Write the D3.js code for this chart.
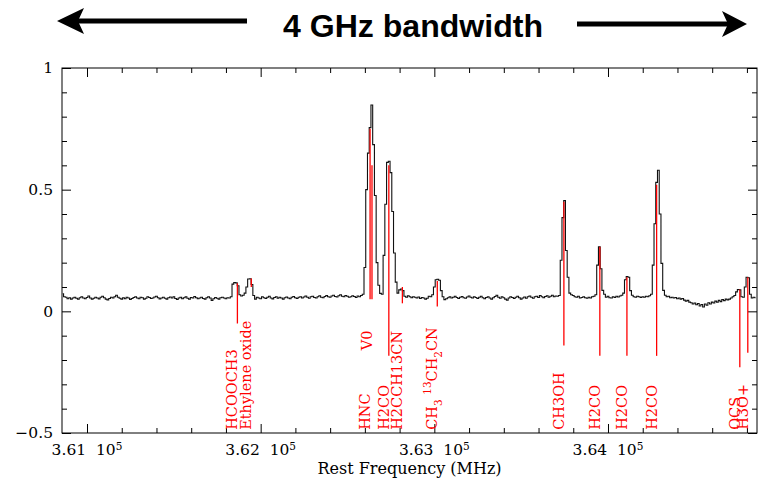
<!DOCTYPE html>
<html>
<head>
<meta charset="utf-8">
<script src="https://d3js.org/d3.v7.min.js"></script>
<style>
body{margin:0;background:#fff;}
svg{display:block;}
.axis path{display:none;}
.axis line{stroke:#000;stroke-width:1;}
</style>
</head>
<body>
<script>
// spectrum channels (10 MHz wide, first channel centre at 360860 MHz)
var chanStart = 360860, chanWidth = 10;
var intensity = [
 0.072,0.06,0.058,0.052,0.056,0.05,0.055,0.058,0.054,0.05,0.056,0.06,0.055,0.052,0.057,0.063,0.055,0.05,0.054,0.058,
 0.055,0.051,0.058,0.062,0.056,0.05,0.047,0.053,0.058,0.055,0.06,0.066,0.058,0.054,0.05,0.056,0.052,0.058,0.055,0.049,
 0.053,0.057,0.06,0.055,0.052,0.058,0.056,0.05,0.054,0.06,0.057,0.053,0.055,0.059,0.062,0.056,0.051,0.055,0.058,0.054,
 0.05,0.056,0.059,0.055,0.06,0.053,0.049,0.055,0.058,0.052,0.056,0.06,0.054,0.05,0.057,0.055,0.061,0.056,0.052,0.055,
 0.058,0.053,0.05,0.056,0.06,0.055,0.045,0.052,0.057,0.054,0.05,0.056,0.058,0.055,0.052,0.056,0.055,0.06,0.112,0.118,
 0.117,0.105,0.068,0.063,0.066,0.075,0.1,0.133,0.134,0.11,0.065,0.05,0.058,0.055,0.052,0.06,0.056,0.053,0.058,0.062,
 0.055,0.051,0.057,0.06,0.054,0.058,0.055,0.05,0.056,0.059,0.055,0.052,0.058,0.061,0.056,0.053,0.058,0.06,0.055,0.059,
 0.063,0.058,0.054,0.06,0.062,0.057,0.055,0.06,0.064,0.058,0.056,0.061,0.065,0.06,0.058,0.063,0.066,0.061,0.059,0.064,
 0.068,0.062,0.06,0.065,0.062,0.058,0.06,0.064,0.061,0.057,0.063,0.06,0.065,0.07,0.18,0.5,0.65,0.755,0.848,0.685,
 0.476,0.2,0.107,0.074,0.07,0.23,0.44,0.612,0.617,0.57,0.41,0.24,0.12,0.075,0.088,0.092,0.085,0.062,0.058,0.064,
 0.06,0.056,0.06,0.058,0.055,0.059,0.053,0.057,0.055,0.05,0.054,0.062,0.06,0.068,0.1,0.13,0.132,0.128,0.085,0.06,
 0.048,0.052,0.056,0.06,0.055,0.058,0.062,0.057,0.053,0.058,0.061,0.056,0.054,0.059,0.063,0.058,0.055,0.06,0.057,0.053,
 0.058,0.062,0.056,0.052,0.057,0.06,0.055,0.05,0.056,0.061,0.066,0.058,0.054,0.06,0.056,0.05,0.046,0.055,0.06,0.057,
 0.053,0.058,0.062,0.056,0.05,0.055,0.059,0.054,0.06,0.063,0.058,0.054,0.06,0.062,0.057,0.065,0.06,0.056,0.061,0.064,
 0.058,0.062,0.066,0.06,0.063,0.062,0.065,0.21,0.385,0.455,0.25,0.14,0.075,0.068,0.065,0.06,0.058,0.062,0.055,0.057,
 0.06,0.056,0.054,0.058,0.055,0.06,0.062,0.068,0.19,0.265,0.175,0.086,0.07,0.058,0.062,0.056,0.055,0.06,0.057,0.062,
 0.059,0.063,0.066,0.075,0.13,0.143,0.14,0.085,0.066,0.06,0.058,0.062,0.06,0.057,0.06,0.058,0.062,0.06,0.064,0.07,
 0.19,0.36,0.53,0.58,0.4,0.197,0.086,0.066,0.06,0.062,0.056,0.058,0.055,0.057,0.052,0.055,0.05,0.053,0.046,0.042,
 0.045,0.038,0.035,0.03,0.034,0.027,0.032,0.022,0.028,0.018,0.03,0.025,0.035,0.03,0.038,0.034,0.042,0.038,0.045,0.04,
 0.048,0.044,0.05,0.047,0.05,0.055,0.06,0.065,0.08,0.09,0.088,0.06,0.058,0.1,0.14,0.138,0.07,0.055,0.058,0.056
];

// line identifications (red markers)
var lineNames   = ["HCOOCH3","Ethylene oxide","HNC","V0","H2CO","H2CCH13CN","CH{_3} {^13}CH{_2}CN","CH3OH","H2CO","H2CO","H2CO","OCS","H3O+"];
var lineFreqs   = [361866,361946,362630,362641,362738,362816,363017,363746,363953,364109,364280,364759,364805];
var lineTops    = [0.115,0.135,0.75,0.6,0.6,0.1,0.125,0.45,0.265,0.14,0.52,0.09,0.14];
var lineBottoms = [-0.05,0.1,0.05,0.05,-0.183,0.033,0.02,-0.14,-0.183,-0.183,-0.183,-0.23,-0.17];

var xMajor = [361000,362000,363000,364000];
var xLabels = ["3.61","3.62","3.63","3.64"];
var yMajor = [-0.5,0,0.5,1];
var yLabels = ["\u22120.5","0","0.5","1"];

var W = 759, H = 478;
var padL = 62, padR = 757, padT = 68, padB = 433;
var serif = "'DejaVu Serif', serif";

var svg = d3.select("body").append("svg").attr("width", W).attr("height", H);

var x = d3.scaleLinear().domain([360856, 364858]).range([padL, padR]);
var y = d3.scaleLinear().domain([-0.5, 1]).range([padB, padT]);

// title + arrows
svg.append("text")
  .attr("x", 413).attr("y", 37)
  .attr("text-anchor", "middle")
  .attr("font-family", "'Liberation Sans', Arial, sans-serif")
  .attr("font-weight", "bold").attr("font-size", 31)
  .attr("textLength", 260).attr("lengthAdjust", "spacingAndGlyphs")
  .text("4 GHz bandwidth");

svg.append("line").attr("x1", 78).attr("x2", 247).attr("y1", 21).attr("y2", 21)
  .attr("stroke", "#000").attr("stroke-width", 5);
svg.append("path").attr("d", "M57,21L84,8L78,21L84,34Z").attr("fill", "#000");
svg.append("line").attr("x1", 577).attr("x2", 728).attr("y1", 24).attr("y2", 24)
  .attr("stroke", "#000").attr("stroke-width", 5);
svg.append("path").attr("d", "M747,24L722,11L728,24L722,37Z").attr("fill", "#000");

// ticks on all four sides, pointing inward
var xTicks = d3.range(361000, 364859, 200);
var yTicks = d3.range(-5, 11).map(function(d){ return d / 10; });
function isMajX(d){ return d % 1000 === 0; }
function isMajY(d){ return Math.abs(d * 2 - Math.round(d * 2)) < 1e-9; }

svg.append("g").attr("class", "axis").attr("transform", "translate(0," + padB + ")")
  .call(d3.axisBottom(x).tickValues(xTicks).tickFormat("").tickSizeOuter(0))
  .selectAll(".tick line").attr("y2", function(d){ return isMajX(d) ? -9 : -5; });
svg.append("g").attr("class", "axis").attr("transform", "translate(0," + padT + ")")
  .call(d3.axisTop(x).tickValues(xTicks).tickFormat("").tickSizeOuter(0))
  .selectAll(".tick line").attr("y2", function(d){ return isMajX(d) ? 9 : 5; });
svg.append("g").attr("class", "axis").attr("transform", "translate(" + padL + ",0)")
  .call(d3.axisLeft(y).tickValues(yTicks).tickFormat("").tickSizeOuter(0))
  .selectAll(".tick line").attr("x2", function(d){ return isMajY(d) ? 9 : 5; });
svg.append("g").attr("class", "axis").attr("transform", "translate(" + padR + ",0)")
  .call(d3.axisRight(y).tickValues(yTicks).tickFormat("").tickSizeOuter(0))
  .selectAll(".tick line").attr("x2", function(d){ return isMajY(d) ? -9 : -5; });

svg.append("rect").attr("x", padL).attr("y", padT)
  .attr("width", padR - padL).attr("height", padB - padT)
  .attr("fill", "none").attr("stroke", "#000").attr("stroke-width", 1);

// tick labels
xMajor.forEach(function(v, i){
  var t = svg.append("text").attr("x", x(v)).attr("y", 455)
    .attr("text-anchor", "middle").attr("font-family", serif).attr("font-size", 15.5);
  t.append("tspan").text(xLabels[i] + "\u00a0\u00a010");
  t.append("tspan").attr("dy", "-0.5em").attr("font-size", 10.5).text("5");
});
yMajor.forEach(function(v, i){
  svg.append("text").attr("x", 53).attr("y", y(v)).attr("dy", "0.35em")
    .attr("text-anchor", "end").attr("font-family", serif).attr("font-size", 15.5)
    .text(yLabels[i]);
});
svg.append("text").attr("x", (padL + padR) / 2).attr("y", 474)
  .attr("text-anchor", "middle").attr("font-family", serif).attr("font-size", 16)
  .text("Rest Frequency (MHz)");

// spectrum
svg.append("clipPath").attr("id", "plot").append("rect")
  .attr("x", padL).attr("y", padT).attr("width", padR - padL).attr("height", padB - padT);

var spec = intensity.map(function(v, i){ return [chanStart + i * chanWidth, v]; });
var line = d3.line().x(function(d){ return x(d[0]); }).y(function(d){ return y(d[1]); })
  .curve(d3.curveStep);
svg.append("path").datum(spec).attr("clip-path", "url(#plot)")
  .attr("d", line).attr("fill", "none").attr("stroke", "#111").attr("stroke-width", 1.1);

// red line markers
var g = svg.append("g").attr("clip-path", "url(#plot)");
lineFreqs.forEach(function(f, i){
  g.append("line").attr("x1", x(f)).attr("x2", x(f))
    .attr("y1", y(lineTops[i])).attr("y2", y(lineBottoms[i]))
    .attr("stroke", "#ff0000").attr("stroke-width", 1.3);
});

// rotated labels, reading upward from near the bottom axis
function addLabel(name, f){
  var base = name === "V0" ? -0.16 : -0.487;
  var t = svg.append("text")
    .attr("transform", "translate(" + x(f) + "," + y(base) + ") rotate(-90)")
    .attr("dy", "0.36em")
    .attr("font-family", serif).attr("font-size", 14.5).attr("fill", "#ff0000");
  var parts = name.split(/(\{[_^][^}]*\})/).filter(function(p){ return p.length; });
  var shift = 0;
  parts.forEach(function(p){
    var m = p.match(/^\{([_^])([^}]*)\}$/);
    if (m) {
      var d = m[1] === "_" ? 5 : -6;
      t.append("tspan").attr("dy", d - shift).attr("font-size", 10.5).text(m[2]);
      shift = d;
    } else {
      t.append("tspan").attr("dy", -shift).text(p);
      shift = 0;
    }
  });
}
lineFreqs.forEach(function(f, i){ addLabel(lineNames[i], f); });
</script>
</body>
</html>
